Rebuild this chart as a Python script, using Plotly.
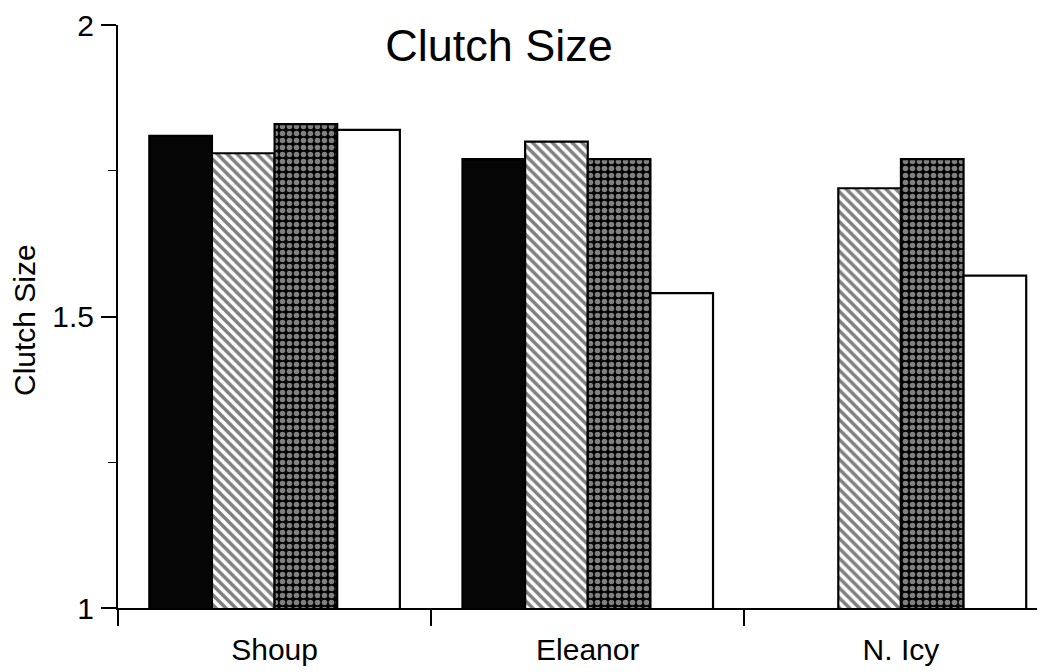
import plotly.graph_objects as go

sites = ["Shoup", "Eleanor", "N. Icy"]
series_names = ["Series A", "Series B", "Series C", "Series D"]
vals_a = [1.81, 1.77, None]
vals_b = [1.78, 1.80, 1.72]
vals_c = [1.83, 1.77, 1.77]
vals_d = [1.82, 1.54, 1.57]
y_tickvals = [1, 1.5, 2]
y_ticktext = ["1", "1.5", "2"]

FONT = "Liberation Sans, Arial, sans-serif"
line = dict(color="black", width=2.2)

fig = go.Figure()
fig.add_trace(go.Bar(x=sites, y=vals_a, name=series_names[0],
                     marker=dict(color="#050505", line=line)))
fig.add_trace(go.Bar(x=sites, y=vals_b, name=series_names[1],
                     marker=dict(color="white", line=line,
                                 pattern=dict(shape="\\", fgcolor="black", bgcolor="white",
                                              size=7, solidity=0.5))))
fig.add_trace(go.Bar(x=sites, y=vals_c, name=series_names[2],
                     marker=dict(color="black", line=line,
                                 pattern=dict(shape=".", fgcolor="white", bgcolor="black",
                                              size=7, solidity=0.5))))
fig.add_trace(go.Bar(x=sites, y=vals_d, name=series_names[3],
                     marker=dict(color="white", line=line)))

fig.update_layout(
    width=1037, height=664,
    margin=dict(l=110, r=0, t=17, b=64, autoexpand=False),
    paper_bgcolor="white", plot_bgcolor="white",
    barmode="group", bargap=0.2, bargroupgap=0,
    showlegend=False,
    font=dict(family=FONT, color="black"),
    title=dict(text="Clutch Size", x=0.4735, xanchor="center", y=0.944, yanchor="middle",
               font=dict(size=45, family=FONT, color="black")),
    xaxis=dict(range=[-0.5, 2.46], showline=True, linecolor="black", linewidth=2,
               ticks="outside", tickson="boundaries", ticklen=16, tickwidth=1.5,
               tickcolor="black", tickfont=dict(size=30), ticklabelstandoff=14,
               showgrid=False, zeroline=False),
    yaxis=dict(range=[1, 2], showline=True, linecolor="black", linewidth=2,
               tickvals=y_tickvals, ticktext=y_ticktext, ticks="outside", ticklen=15,
               tickwidth=1.5, tickcolor="black", tickfont=dict(size=30),
               ticklabelstandoff=1, ticklabeloverflow="allow",
               minor=dict(tickvals=[1.25, 1.75], ticks="outside", ticklen=8,
                          tickwidth=1.2, tickcolor="black"),
               showgrid=False, zeroline=False),
    annotations=[dict(text="Clutch Size", xref="paper", yref="paper", x=-0.1003, y=0.494,
                      xanchor="center", yanchor="middle", textangle=-90, showarrow=False,
                      font=dict(size=30, family=FONT, color="black"))],
)

fig.write_html("out.html")
